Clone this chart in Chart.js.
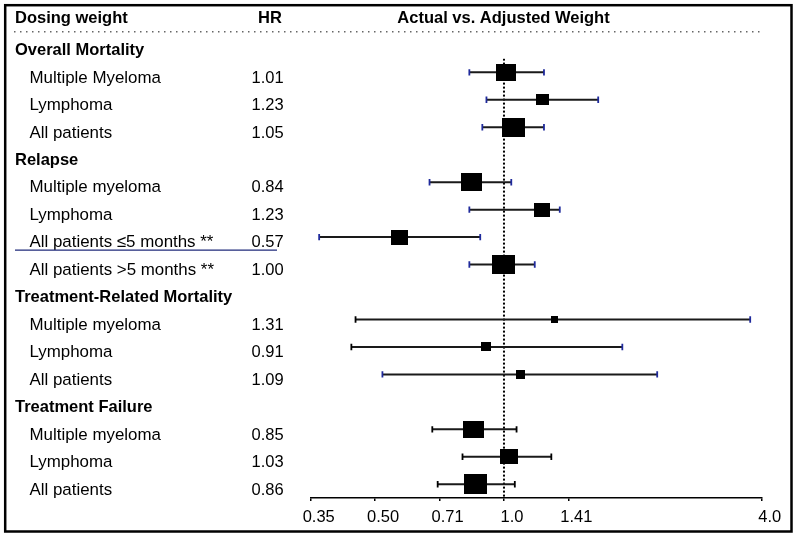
<!DOCTYPE html>
<html>
<head>
<meta charset="utf-8">
<script src="https://cdn.jsdelivr.net/npm/chart.js@4.4.1/dist/chart.umd.min.js"></script>
<style>
  html, body { margin: 0; padding: 0; background: #fff; }
  canvas { display: block; }
</style>
</head>
<body>
<canvas id="forest" width="800" height="538"></canvas>
<script>
// Datos del forest plot
const groups = ['Overall Mortality', 'Relapse', 'Treatment-Related Mortality', 'Treatment Failure'];
const subgroups = [
  ['Multiple Myeloma', 'Lymphoma', 'All patients'],
  ['Multiple myeloma', 'Lymphoma', 'All patients ≤5 months **', 'All patients >5 months **'],
  ['Multiple myeloma', 'Lymphoma', 'All patients'],
  ['Multiple myeloma', 'Lymphoma', 'All patients'],
];
const hr    = [1.01, 1.23, 1.05, 0.84, 1.23, 0.57, 1.00, 1.31, 0.91, 1.09, 0.85, 1.03, 0.86];
const lower = [0.83, 0.91, 0.89, 0.67, 0.83, 0.37, 0.83, 0.45, 0.44, 0.52, 0.68, 0.80, 0.70];
const upper = [1.24, 1.66, 1.24, 1.04, 1.35, 0.88, 1.18, 3.76, 1.89, 2.28, 1.07, 1.29, 1.06];
const weight = [20, 13, 22.6, 21.3, 16.3, 17.3, 22.7, 7, 9.7, 9.3, 20.7, 18, 23.3]; // tamaño del cuadro
const xTicks = [Math.SQRT1_2 / 2, 0.5, Math.SQRT1_2, 1, Math.SQRT2, 4];
const xTickLabels = ['0.35', '0.50', '0.71', '1.0', '1.41', '4.0'];

// Colores de las marcas de los extremos
const NAVY = '#1f2a9c';
const capLeft  = [NAVY, NAVY, NAVY, NAVY, NAVY, NAVY, NAVY, '#000', '#000', NAVY, '#000', '#000', '#000'];
const capRight = [NAVY, NAVY, NAVY, NAVY, NAVY, NAVY, NAVY, NAVY, NAVY, NAVY, '#000', '#000', '#000'];

const FONT = "'Liberation Sans', Arial, sans-serif";

// Filas: cabecera de grupo + subgrupos
const rows = [];
let r = 0, k = 0;
groups.forEach((g, gi) => {
  rows.push({ row: r++, text: g, header: true });
  subgroups[gi].forEach(s => {
    rows.push({ row: r++, text: s, header: false, idx: k++ });
  });
});
const dataRows = rows.filter(d => !d.header);

// Cuadros como imagen (más anchos que altos, como en el original)
function boxImage(w) {
  const c = document.createElement('canvas');
  c.width = Math.round(w);
  c.height = Math.max(6, Math.round(w * (w < 11 ? 0.95 : 0.84)));
  const g = c.getContext('2d');
  g.fillStyle = '#000';
  g.fillRect(0, 0, c.width, c.height);
  return c;
}

const datasets = [];

// Línea de referencia en HR = 1
datasets.push({
  data: [{ x: 1, y: 0.5 }, { x: 1, y: 16.5 }],
  showLine: true,
  borderColor: '#000',
  borderWidth: 2,
  borderDash: [2, 2],
  pointRadius: 0,
  order: 3,
});

// Intervalos de confianza
dataRows.forEach(d => {
  const i = d.idx;
  datasets.push({
    data: [{ x: lower[i], y: d.row }, { x: upper[i], y: d.row }],
    showLine: true,
    borderColor: '#1a1a1a',
    borderWidth: 2,
    pointStyle: 'line',
    rotation: 90,
    pointRadius: 3.2,
    pointBorderWidth: 1.8,
    pointBorderColor: [capLeft[i], capRight[i]],
    order: 2,
  });
});

// Estimaciones puntuales
datasets.push({
  data: dataRows.map(d => ({ x: hr[d.idx], y: d.row })),
  pointStyle: dataRows.map(d => boxImage(weight[d.idx])),
  pointRadius: 5,
  order: 1,
});

const textPlugin = {
  id: 'forestText',
  afterDraw(chart) {
    const ctx = chart.ctx;
    const y = chart.scales.y;
    ctx.save();

    // marco exterior
    ctx.strokeStyle = '#000';
    ctx.lineWidth = 2.5;
    ctx.strokeRect(5.2, 5.2, 786.3, 526.3);

    // encabezados
    ctx.fillStyle = '#000';
    ctx.textBaseline = 'alphabetic';
    ctx.font = `bold 16.5px ${FONT}`;
    ctx.textAlign = 'left';
    ctx.fillText('Dosing weight', 15, 23.3);
    ctx.fillText('HR', 258, 23.3);
    ctx.textAlign = 'center';
    ctx.fillText('Actual vs. Adjusted Weight', 503.5, 23.3);

    // línea punteada bajo los encabezados
    ctx.strokeStyle = '#666';
    ctx.lineWidth = 1.5;
    ctx.setLineDash([1.5, 4.5]);
    ctx.beginPath();
    ctx.moveTo(14, 31.7);
    ctx.lineTo(762, 31.7);
    ctx.stroke();
    ctx.setLineDash([]);

    // etiquetas de filas y valores HR
    ctx.textAlign = 'left';
    rows.forEach(d => {
      const base = y.getPixelForValue(d.row) + 10.3;
      if (d.header) {
        ctx.font = `bold 16.5px ${FONT}`;
        ctx.fillText(d.text, 15, base);
      } else {
        ctx.font = `16.9px ${FONT}`;
        ctx.fillText(d.text, 29.5, base);
        ctx.font = `16.5px ${FONT}`;
        ctx.fillText(hr[d.idx].toFixed(2), 251.5, base);
      }
    });

    // subrayado azul bajo "All patients ≤5 months"
    const ul = rows.find(d => d.text.indexOf('≤5') >= 0);
    const uy = y.getPixelForValue(ul.row) + 13;
    ctx.strokeStyle = '#1f2a7a';
    ctx.lineWidth = 1.3;
    ctx.beginPath();
    ctx.moveTo(15, uy);
    ctx.lineTo(277, uy);
    ctx.stroke();

    ctx.restore();
  },
};

new Chart(document.getElementById('forest').getContext('2d'), {
  type: 'scatter',
  data: { datasets },
  options: {
    responsive: false,
    animation: false,
    layout: { padding: { left: 310.7, right: 38.3, top: 58.6, bottom: 4 } },
    plugins: {
      legend: { display: false },
      tooltip: { enabled: false },
    },
    scales: {
      x: {
        type: 'logarithmic',
        min: Math.SQRT1_2 / 2,
        max: 4,
        afterBuildTicks: scale => {
          scale.ticks = xTicks.map(v => ({ value: v }));
        },
        afterFit: scale => { scale.height = 36; },
        ticks: {
          callback: (v, i) => xTickLabels[i],
          color: '#000',
          font: { family: FONT, size: 16.5 },
          padding: 7,
          labelOffset: 8,
          autoSkip: false,
          maxRotation: 0,
        },
        grid: {
          display: true,
          drawOnChartArea: false,
          drawTicks: true,
          tickLength: 3,
          color: '#000',
          lineWidth: 1.5,
        },
        border: { display: true, color: '#000', width: 1.5 },
      },
      y: {
        type: 'linear',
        min: 0.5,
        max: 16.5,
        reverse: true,
        display: false,
      },
    },
  },
  plugins: [textPlugin],
});
</script>
</body>
</html>
